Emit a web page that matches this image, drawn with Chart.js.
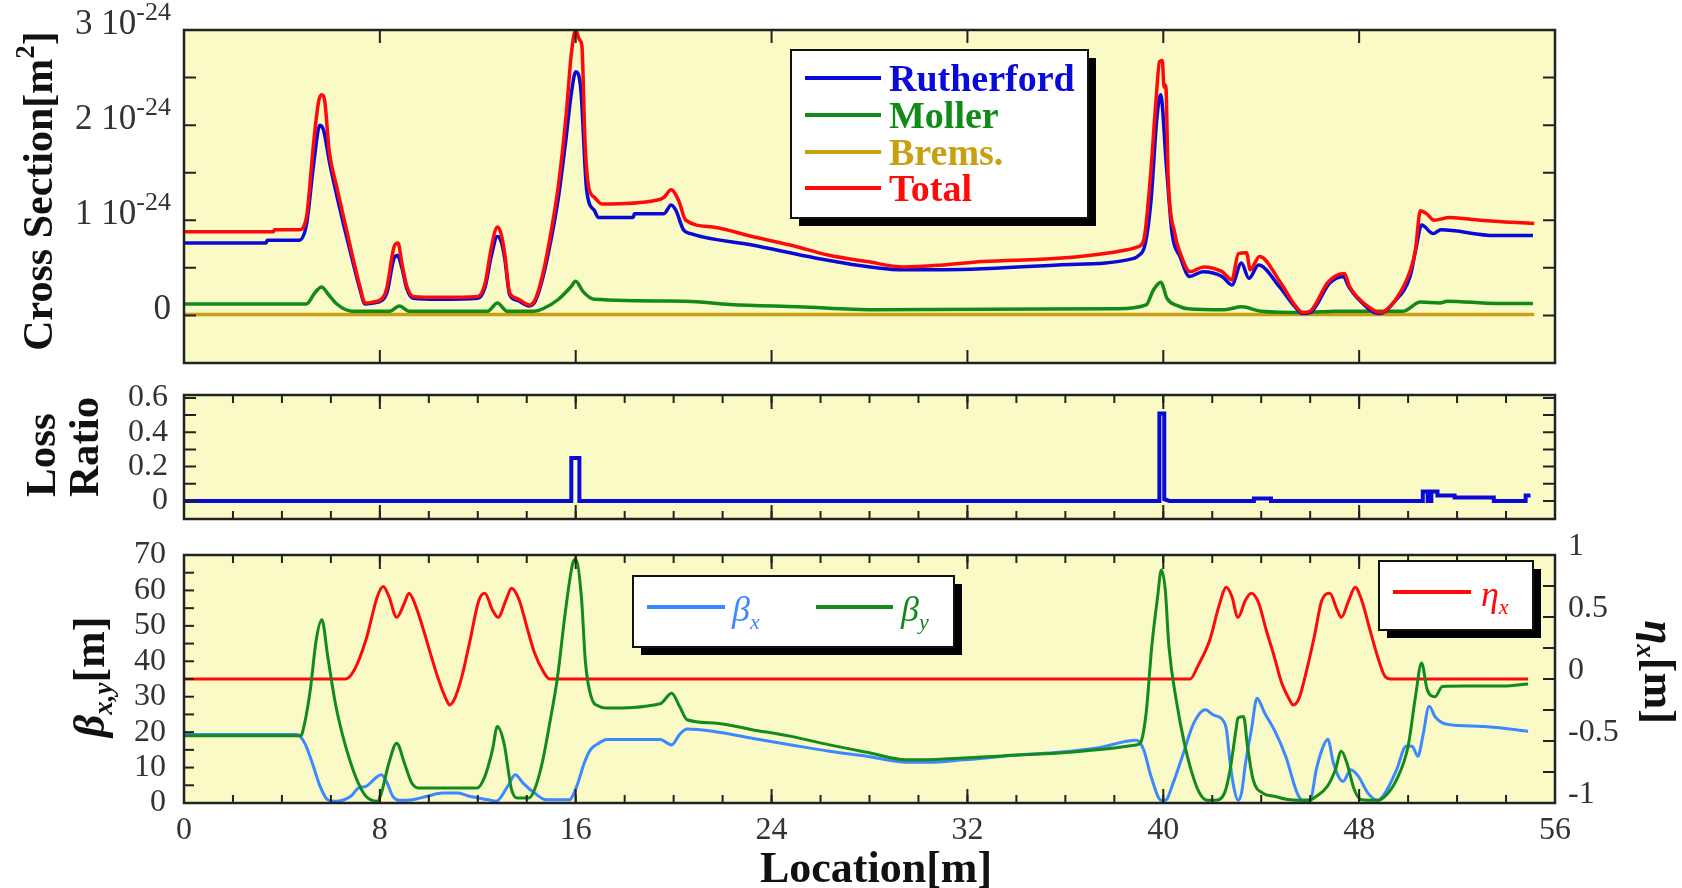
<!DOCTYPE html>
<html>
<head>
<meta charset="utf-8">
<title>Cross section, loss ratio and optics</title>
<script src="https://cdn.jsdelivr.net/npm/chart.js@4.4.1/dist/chart.umd.min.js"></script>
<style>
body{margin:0;background:#fff}
#wrap{position:relative;width:1682px;height:888px}
canvas{position:absolute;left:0;top:0}
</style>
</head>
<body>
<div id="wrap">
<canvas id="cs" width="1682" height="888"></canvas>
<canvas id="loss" width="1682" height="888"></canvas>
<canvas id="optics" width="1682" height="888"></canvas>
</div>
<script>
// ---- DATA ----
// location [m] along the line
const xTicks = [0, 8, 16, 24, 32, 40, 48, 56];

// cross sections, values in units of 1e-24 m^2, pairs [location, value]
const csTicks = [0, 1, 2, 3];
const rutherford = [[0,0.76],[3.35,0.76],[3.4,0.79],[4.7,0.79],[5.0,0.95],[5.3,1.6],[5.55,2.0],[5.7,1.95],[5.95,1.6],[6.25,1.25],[6.55,0.92],[6.86,0.6],[7.18,0.28],[7.4,0.12],[7.7,0.13],[8.1,0.16],[8.3,0.25],[8.58,0.6],[8.72,0.63],[8.9,0.5],[9.1,0.28],[9.36,0.18],[10.45,0.17],[12.0,0.18],[12.3,0.3],[12.55,0.62],[12.8,0.83],[12.95,0.78],[13.1,0.6],[13.3,0.22],[13.6,0.16],[14.1,0.1],[14.35,0.15],[14.66,0.4],[14.98,0.78],[15.3,1.25],[15.6,1.85],[15.83,2.35],[16.0,2.56],[16.2,2.4],[16.45,1.31],[16.77,1.1],[16.92,1.03],[18.35,1.03],[18.4,1.07],[19.6,1.07],[19.9,1.16],[20.1,1.1],[20.4,0.9],[20.7,0.86],[23.2,0.74],[26.3,0.58],[29.4,0.48],[31.0,0.48],[35.7,0.53],[38.8,0.6],[38.95,0.62],[39.27,0.76],[39.5,1.21],[39.74,2.08],[39.89,2.32],[40.13,1.56],[40.36,0.86],[40.68,0.62],[41.07,0.41],[41.62,0.46],[42.4,0.41],[42.8,0.32],[43.19,0.55],[43.5,0.39],[43.89,0.53],[44.75,0.3],[45.38,0.09],[45.69,0.02],[46.0,0.03],[46.8,0.34],[47.35,0.41],[47.58,0.3],[47.9,0.19],[48.83,0.02],[49.46,0.15],[50.08,0.41],[50.32,0.7],[50.55,0.95],[51.03,0.86],[51.34,0.9],[53.54,0.84],[55.1,0.84]];
const moller = [[0,0.12],[5.0,0.12],[5.35,0.24],[5.62,0.3],[5.9,0.22],[6.24,0.12],[6.86,0.045],[8.4,0.045],[8.8,0.1],[9.2,0.045],[12.4,0.045],[12.8,0.13],[13.2,0.045],[14.3,0.045],[14.66,0.07],[15.3,0.17],[15.8,0.3],[16.0,0.36],[16.3,0.25],[16.75,0.17],[20.5,0.15],[22.3,0.115],[25.1,0.09],[28.2,0.06],[38.1,0.07],[39.3,0.11],[39.6,0.27],[39.9,0.35],[40.15,0.18],[40.6,0.1],[41.0,0.07],[42.5,0.06],[43.2,0.09],[44.0,0.045],[45.8,0.03],[47.0,0.045],[49.8,0.045],[50.5,0.14],[51.3,0.13],[51.6,0.15],[53.6,0.125],[55.1,0.125]];
const brems = [[0,0.01],[55.15,0.01]];
const total = [[0,0.88],[3.65,0.88],[3.7,0.9],[4.7,0.9],[5.0,1.03],[5.3,1.83],[5.5,2.25],[5.62,2.32],[5.75,2.25],[5.93,1.73],[6.24,1.35],[6.55,1.0],[6.86,0.65],[7.18,0.31],[7.4,0.13],[7.7,0.14],[8.1,0.18],[8.27,0.27],[8.58,0.72],[8.74,0.76],[8.9,0.55],[9.1,0.31],[9.36,0.2],[10.45,0.19],[12.0,0.2],[12.3,0.34],[12.56,0.72],[12.8,0.93],[12.95,0.86],[13.1,0.65],[13.3,0.24],[13.6,0.18],[14.1,0.11],[14.35,0.17],[14.66,0.44],[14.98,0.86],[15.3,1.38],[15.6,2.08],[15.83,2.77],[16.0,3.0],[16.15,2.9],[16.25,2.84],[16.38,1.83],[16.53,1.35],[16.77,1.24],[17.07,1.17],[19.28,1.21],[19.6,1.24],[19.9,1.32],[20.2,1.21],[20.5,1.0],[21.6,0.93],[23.2,0.83],[24.76,0.74],[26.3,0.635],[27.9,0.566],[29.4,0.51],[31.0,0.53],[32.6,0.566],[35.7,0.6],[38.1,0.67],[38.95,0.72],[39.2,0.79],[39.45,1.38],[39.7,2.25],[39.85,2.67],[39.96,2.68],[40.03,2.4],[40.1,2.42],[40.2,1.45],[40.47,0.86],[40.7,0.65],[41.1,0.46],[41.65,0.51],[42.4,0.46],[42.8,0.375],[43.07,0.65],[43.4,0.66],[43.55,0.48],[43.93,0.62],[44.8,0.34],[45.4,0.1],[45.7,0.03],[46.0,0.045],[46.7,0.34],[47.0,0.41],[47.4,0.44],[47.6,0.31],[47.9,0.2],[48.55,0.06],[48.87,0.03],[49.5,0.17],[50.1,0.48],[50.3,0.69],[50.5,1.1],[50.75,1.07],[51.06,1.0],[51.7,1.03],[52.95,1.0],[55.15,0.965]];

// loss ratio
const lossTicks = [0, 0.2, 0.4, 0.6];
const lossRatio = [[0,0],[15.82,0],[15.82,0.25],[16.15,0.25],[16.15,0],[39.84,0],[39.84,0.51],[40.04,0.51],[40.04,0.01],[40.25,0],[43.7,0],[43.7,0.015],[44.4,0.015],[44.4,0],[50.6,0],[50.6,0.055],[50.8,0.055],[50.8,0],[50.95,0],[50.95,0.055],[51.2,0.055],[51.2,0.032],[51.9,0.032],[51.9,0.02],[53.5,0.02],[53.5,0],[54.8,0],[54.8,0.032],[55.0,0.032]];

// optics: beta functions [m] and dispersion [m]
const betaTicks = [0, 10, 20, 30, 40, 50, 60, 70];
const etaTicks = [-1, -0.5, 0, 0.5, 1];
const betaX = [[0,19.3],[4.6,19.3],[4.93,16.9],[5.24,11.3],[5.56,4.7],[5.87,0.9],[6.18,0.5],[6.81,1.9],[7.12,4.2],[7.43,4.7],[8.06,8.0],[8.3,5.6],[8.53,1.9],[8.84,0.75],[9.31,0.9],[9.94,1.9],[10.56,2.8],[11.19,2.8],[11.66,1.9],[12.44,0.9],[12.75,0.5],[13.22,4.7],[13.53,8.0],[13.85,5.6],[14.32,2.8],[14.79,0.9],[15.73,0.9],[16.04,4.7],[16.35,11.3],[16.6,15],[16.95,16.9],[17.26,17.9],[19.45,17.9],[19.92,16.4],[20.24,19.3],[20.55,20.9],[21.65,20.2],[23.2,18.3],[24.8,16.4],[26.37,14.6],[27.9,13.2],[29.5,11.5],[30.4,11.5],[31.85,12.2],[34.2,13.6],[35.75,14.3],[37.3,15.5],[38.9,17.7],[39.2,15],[39.5,7.5],[39.92,0.75],[40.08,0.75],[40.4,5.6],[40.78,13.2],[41.25,22.6],[41.72,26.3],[42.03,24.9],[42.42,23.5],[42.58,20.7],[42.73,11.3],[42.9,3.8],[43.05,0.75],[43.2,3],[43.36,11.3],[43.6,20.7],[43.83,29.6],[44.14,25.4],[44.53,20.7],[45.0,13.2],[45.47,2.8],[45.7,0.75],[46.0,0.9],[46.25,9.4],[46.48,15],[46.72,18],[46.95,11.3],[47.34,6.1],[47.66,9.4],[47.97,7.5],[48.36,2.8],[48.75,0.75],[49.06,2.8],[49.53,9.4],[49.92,16],[50.16,16],[50.4,13.2],[50.6,18.8],[50.86,27.3],[51.1,24.4],[51.4,22.6],[51.72,22.1],[53.1,21.6],[54.4,20.7],[54.9,20.2]];
const betaY = [[0,19.0],[4.77,19.0],[4.93,22.6],[5.16,32],[5.4,46],[5.63,51.7],[5.87,41.4],[6.18,28.2],[6.49,18.8],[6.81,11.3],[7.12,5.6],[7.43,1.9],[7.9,0.5],[8.06,2.8],[8.37,11.3],[8.69,16.9],[9.0,11.3],[9.31,5.6],[9.62,4.2],[11.97,4.2],[12.29,7.5],[12.6,15],[12.8,21.6],[13.07,16.9],[13.38,3.8],[13.62,1.4],[14.09,1.4],[14.32,3.8],[14.63,11.3],[14.94,22.6],[15.26,35.7],[15.57,53.6],[15.88,67.7],[16.0,68.8],[16.23,58.3],[16.4,39.5],[16.63,30],[16.95,27.3],[17.26,26.8],[19.45,28],[19.92,31],[20.24,27.3],[20.55,23.5],[21.65,22.6],[23.2,20.7],[24.8,18.8],[26.37,16.4],[27.9,14.3],[29.5,12.2],[30.3,12.2],[31.07,12.4],[33.4,13.3],[35.75,14.1],[37.3,15],[38.9,16.4],[39.06,16.9],[39.3,25.4],[39.53,44.2],[39.77,58.3],[39.92,65.8],[40.08,60.2],[40.23,44.2],[40.55,28.2],[40.86,16.9],[41.17,8.5],[41.48,2.8],[41.8,0.75],[42.1,0.75],[42.5,2.8],[42.73,9.4],[42.97,20.7],[43.05,24],[43.28,24.4],[43.44,16],[43.67,6.6],[44.06,2.8],[44.53,1.9],[45.16,0.9],[45.94,0.75],[46.25,1.9],[46.7,4.7],[47.03,9.4],[47.27,14.6],[47.5,11.3],[47.8,3.8],[48.1,0.9],[48.75,0.75],[49.06,1.9],[49.53,6.6],[50.0,16],[50.3,30],[50.55,39.5],[50.78,32],[51.1,30],[51.4,32.9],[52.34,33],[53.9,33],[54.9,33.6]];
const etaX = [[0,0],[6.6,0],[6.96,0.074],[7.43,0.314],[7.9,0.666],[8.14,0.746],[8.37,0.666],[8.69,0.497],[9.0,0.611],[9.19,0.691],[9.47,0.586],[9.78,0.397],[10.1,0.183],[10.4,-0.006],[10.72,-0.169],[10.85,-0.209],[11.03,-0.169],[11.35,0.02],[11.66,0.289],[12.05,0.637],[12.29,0.691],[12.6,0.557],[12.83,0.497],[13.15,0.637],[13.38,0.731],[13.69,0.637],[14.0,0.423],[14.32,0.209],[14.71,0.049],[14.94,0],[41.1,0],[41.4,0.1],[41.9,0.314],[42.27,0.586],[42.58,0.74],[42.8,0.666],[43.05,0.497],[43.36,0.637],[43.6,0.691],[43.9,0.611],[44.2,0.397],[44.53,0.183],[44.84,-0.034],[45.16,-0.169],[45.3,-0.209],[45.55,-0.154],[45.86,0.074],[46.17,0.343],[46.48,0.637],[46.8,0.691],[47.1,0.557],[47.27,0.497],[47.58,0.637],[47.84,0.74],[48.1,0.637],[48.44,0.397],[48.75,0.183],[49.06,0.02],[49.3,0],[54.9,0]];

// ---- STYLE ----
const serif = "'Liberation Serif', 'Times New Roman', serif";
const C = {
  blue: '#0a0ad8', green: '#118a18', gold: '#c9a012', red: '#ff0a0a',
  bx: '#3b88ff', by: '#128a1c', bg: '#fafac6', frame: '#222', text: '#333'
};
Chart.defaults.font.family = serif;
Chart.defaults.color = C.text;

function pts(arr){ return arr.map(p => ({x: p[0], y: p[1]})); }

function lineSet(label, arr, color, width, extra){
  return Object.assign({
    label: label, data: pts(arr), borderColor: color, backgroundColor: color,
    borderWidth: width, pointRadius: 0, tension: 0, fill: false,
    cubicInterpolationMode: 'monotone'
  }, extra || {});
}

// draw text made of pieces (main text, sub / superscripts)
function rich(ctx, parts, x, y, rot, align){
  ctx.save();
  ctx.translate(x, y);
  ctx.rotate(rot || 0);
  let w = 0;
  parts.forEach(p => { ctx.font = p.f; w += ctx.measureText(p.t).width; });
  let cx = align === 'center' ? -w / 2 : (align === 'right' ? -w : 0);
  ctx.textAlign = 'left';
  ctx.textBaseline = 'alphabetic';
  parts.forEach(p => {
    ctx.font = p.f;
    ctx.fillStyle = p.c || '#111';
    ctx.fillText(p.t, cx, p.dy || 0);
    cx += ctx.measureText(p.t).width;
  });
  ctx.restore();
}

function labelParts(label, font, subFont, color){
  const bits = label.split('_');
  const parts = [{t: bits[0], f: font, c: color}];
  if (bits[1]) parts.push({t: bits[1], f: subFont, c: color, dy: 8});
  return parts;
}

// yellow plot area, frame, inward ticks, boxed legend, titles
const panel = {
  id: 'panel',
  beforeDraw(chart){
    const a = chart.chartArea, ctx = chart.ctx;
    ctx.save();
    ctx.fillStyle = C.bg;
    ctx.fillRect(a.left, a.top, a.right - a.left, a.bottom - a.top);
    ctx.restore();
  },
  afterDraw(chart, args, o){
    const a = chart.chartArea, ctx = chart.ctx;
    ctx.save();
    ctx.strokeStyle = C.frame;
    ctx.lineWidth = 2;
    (o.marks || []).forEach(m => {
      const s = chart.scales[m.scale];
      for (let v = m.from; v <= m.to + 1e-9; v += m.step) {
        const p = s.getPixelForValue(v);
        ctx.beginPath();
        if (m.scale === 'x') {
          ctx.moveTo(p, a.top); ctx.lineTo(p, a.top + m.len);
          ctx.moveTo(p, a.bottom); ctx.lineTo(p, a.bottom - m.len);
        } else {
          if (m.side !== 'right') { ctx.moveTo(a.left, p); ctx.lineTo(a.left + m.len, p); }
          if (m.side !== 'left') { ctx.moveTo(a.right, p); ctx.lineTo(a.right - m.len, p); }
        }
        ctx.stroke();
      }
    });
    ctx.lineWidth = 2.5;
    ctx.strokeRect(a.left, a.top, a.right - a.left, a.bottom - a.top);

    (o.legends || []).forEach(L => {
      const [l, t, r, b] = L.box;
      ctx.fillStyle = '#000';
      ctx.fillRect(l + 8, t + 8, r - l, b - t);
      ctx.fillStyle = '#fff';
      ctx.fillRect(l, t, r - l, b - t);
      ctx.strokeStyle = '#111';
      ctx.lineWidth = 2;
      ctx.strokeRect(l, t, r - l, b - t);
      L.items.forEach(it => {
        const ds = chart.data.datasets[it.ds];
        ctx.strokeStyle = ds.borderColor;
        ctx.lineWidth = 4;
        ctx.beginPath();
        ctx.moveTo(it.x0, it.y); ctx.lineTo(it.x1, it.y);
        ctx.stroke();
        rich(ctx, labelParts(ds.label, L.font, L.subFont, ds.borderColor), it.tx, it.y + L.dy, 0, 'left');
      });
    });

    (o.titles || []).forEach(t => rich(ctx, t.parts, t.x, t.y, t.rot, t.align));
    if (o.extra) o.extra(chart);
    ctx.restore();
  }
};

const tickFont = {family: serif, size: 32, lineHeight: 1};
const bold = s => 'bold ' + s + 'px ' + serif;
const boldIt = s => 'italic bold ' + s + 'px ' + serif;
const fmt = v => String(+(+v).toFixed(2));
const setTicks = list => (s => { s.ticks = list.map(v => ({value: v})); });
const xMarks = [
  {scale: 'x', from: 0, to: 56, step: 2, len: 8},
  {scale: 'x', from: 0, to: 56, step: 8, len: 14}
];

// ---- CROSS SECTION ----
new Chart(document.getElementById('cs'), {
  type: 'line',
  data: {datasets: [
    lineSet('Rutherford', rutherford, C.blue, 3.5, {order: 2}),
    lineSet('Moller', moller, C.green, 3.5, {order: 3}),
    lineSet('Brems.', brems, C.gold, 3.5, {order: 4}),
    lineSet('Total', total, C.red, 3.5, {order: 1})
  ]},
  options: {
    responsive: false, animation: false, devicePixelRatio: 1,
    layout: {padding: {left: 184, right: 127, top: 30, bottom: 525}},
    scales: {
      x: {type: 'linear', display: false, min: 0, max: 56},
      y: {display: false, min: -0.5, max: 3}
    },
    plugins: {
      legend: {display: false}, tooltip: {enabled: false},
      panel: {
        marks: [
          {scale: 'x', from: 0, to: 56, step: 8, len: 13},
          {scale: 'y', from: 0, to: 3, step: 0.5, len: 12}
        ],
        legends: [{
          box: [791, 50, 1088, 218], font: bold(38), subFont: bold(24), dy: 13,
          items: [
            {ds: 0, x0: 805, x1: 881, tx: 889, y: 78},
            {ds: 1, x0: 805, x1: 881, tx: 889, y: 115},
            {ds: 2, x0: 805, x1: 881, tx: 889, y: 152},
            {ds: 3, x0: 805, x1: 881, tx: 889, y: 188}
          ]
        }],
        titles: [{
          x: 52, y: 191, rot: -Math.PI / 2, align: 'center',
          parts: [{t: 'Cross Section[m', f: bold(42)}, {t: '2', f: bold(27), dy: -18}, {t: ']', f: bold(42)}]
        }],
        extra(chart){
          const s = chart.scales.y, ctx = chart.ctx;
          csTicks.forEach(v => {
            const y = s.getPixelForValue(v) + 4;
            const parts = v === 0
              ? [{t: '0', f: '35px ' + serif, c: C.text}]
              : [{t: v + ' 10', f: '35px ' + serif, c: C.text}, {t: '-24', f: '26px ' + serif, c: C.text, dy: -14}];
            rich(ctx, parts, 171, y, 0, 'right');
          });
        }
      }
    }
  },
  plugins: [panel]
});

// ---- LOSS RATIO ----
new Chart(document.getElementById('loss'), {
  type: 'line',
  data: {datasets: [lineSet('Loss Ratio', lossRatio, C.blue, 4, {cubicInterpolationMode: 'default'})]},
  options: {
    responsive: false, animation: false, devicePixelRatio: 1,
    layout: {padding: {left: 0, right: 127, top: 395, bottom: 369}},
    scales: {
      x: {type: 'linear', display: false, min: 0, max: 56},
      y: {
        min: -0.105, max: 0.617,
        afterBuildTicks: setTicks(lossTicks),
        afterFit: s => { s.width = 184; },
        grid: {display: false, drawTicks: false}, border: {display: false},
        ticks: {font: tickFont, padding: 16, autoSkip: false, callback: fmt}
      }
    },
    plugins: {
      legend: {display: false}, tooltip: {enabled: false},
      panel: {
        marks: xMarks.concat([{scale: 'y', from: 0, to: 0.6, step: 0.1, len: 12}]),
        titles: [
          {x: 55, y: 497, rot: -Math.PI / 2, align: 'left', parts: [{t: 'Loss', f: bold(43)}]},
          {x: 98, y: 497, rot: -Math.PI / 2, align: 'left', parts: [{t: 'Ratio', f: bold(43)}]}
        ]
      }
    }
  },
  plugins: [panel]
});

// ---- OPTICS ----
new Chart(document.getElementById('optics'), {
  type: 'line',
  data: {datasets: [
    lineSet('β_x', betaX, C.bx, 3, {yAxisID: 'y', order: 3}),
    lineSet('β_y', betaY, C.by, 3, {yAxisID: 'y', order: 1}),
    lineSet('η_x', etaX, C.red, 3, {yAxisID: 'y1', order: 2})
  ]},
  options: {
    responsive: false, animation: false, devicePixelRatio: 1,
    layout: {padding: {left: 0, right: 0, top: 555, bottom: 0}},
    scales: {
      x: {
        type: 'linear', min: 0, max: 56,
        afterBuildTicks: setTicks(xTicks),
        afterFit: s => { s.height = 85; },
        grid: {display: false, drawTicks: false}, border: {display: false},
        ticks: {font: tickFont, padding: 12, autoSkip: false, maxRotation: 0, callback: fmt}
      },
      y: {
        position: 'left', min: 0, max: 70,
        afterBuildTicks: setTicks(betaTicks),
        afterFit: s => { s.width = 184; },
        grid: {display: false, drawTicks: false}, border: {display: false},
        ticks: {font: tickFont, padding: 18, autoSkip: false, callback: fmt}
      },
      y1: {
        position: 'right', min: -1, max: 1,
        afterBuildTicks: setTicks(etaTicks),
        afterFit: s => { s.width = 127; },
        grid: {display: false, drawTicks: false}, border: {display: false},
        ticks: {font: tickFont, padding: 13, autoSkip: false, labelOffset: -8, callback: fmt}
      }
    },
    plugins: {
      legend: {display: false}, tooltip: {enabled: false},
      panel: {
        marks: xMarks.concat([
          {scale: 'y', from: 0, to: 70, step: 5, len: 10, side: 'left'},
          {scale: 'y1', from: -1, to: 1, step: 0.25, len: 12, side: 'right'}
        ]),
        legends: [
          {
            box: [633, 576, 954, 647], font: 'italic 36px ' + serif, subFont: 'italic 22px ' + serif, dy: 14,
            items: [
              {ds: 0, x0: 647, x1: 725, tx: 732, y: 607},
              {ds: 1, x0: 816, x1: 893, tx: 901, y: 607}
            ]
          },
          {
            box: [1379, 561, 1533, 630], font: 'italic 36px ' + serif, subFont: 'italic 22px ' + serif, dy: 14,
            items: [{ds: 2, x0: 1393, x1: 1471, tx: 1481, y: 592}]
          }
        ],
        titles: [
          {x: 104, y: 677, rot: -Math.PI / 2, align: 'center',
           parts: [{t: 'β', f: boldIt(44)}, {t: 'x,y', f: boldIt(27), dy: 8}, {t: '[m]', f: bold(44)}]},
          {x: 1645, y: 672, rot: Math.PI / 2, align: 'center',
           parts: [{t: 'η', f: boldIt(44)}, {t: 'x', f: boldIt(27), dy: 8}, {t: '[m]', f: bold(44)}]},
          {x: 876, y: 882, rot: 0, align: 'center', parts: [{t: 'Location[m]', f: bold(44)}]}
        ]
      }
    }
  },
  plugins: [panel]
});
</script>
</body>
</html>
